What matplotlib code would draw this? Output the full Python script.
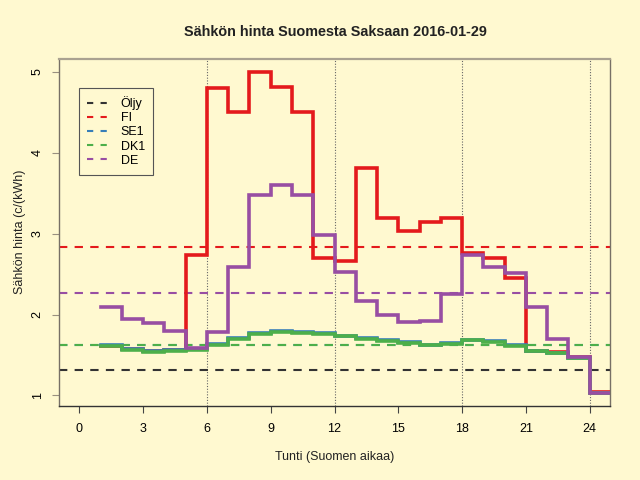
import matplotlib
matplotlib.use("Agg")
import matplotlib.pyplot as plt
from matplotlib.lines import Line2D

plt.rcParams['font.family'] = ['Liberation Sans', 'DejaVu Sans']

# hourly prices (c/kWh), Finnish time, hours 1..24
hours = list(range(1, 26))
fi = [1.61, 1.57, 1.55, 1.56, 2.74, 4.80, 4.51, 5.00, 4.81, 4.51, 2.70, 2.66,
      3.81, 3.20, 3.03, 3.14, 3.19, 2.76, 2.70, 2.45, 1.555, 1.54, 1.47, 1.04]
se1 = [1.62, 1.57, 1.55, 1.56, 1.57, 1.64, 1.71, 1.77, 1.80, 1.78, 1.77, 1.74,
       1.71, 1.68, 1.66, 1.63, 1.65, 1.69, 1.67, 1.62, 1.555, 1.53, 1.46, 1.03]
dk1 = [1.61, 1.56, 1.535, 1.55, 1.565, 1.63, 1.70, 1.76, 1.79, 1.77, 1.76, 1.73,
       1.70, 1.67, 1.65, 1.625, 1.64, 1.68, 1.66, 1.615, 1.55, 1.53, 1.46, 1.03]
de = [2.095, 1.94, 1.90, 1.80, 1.59, 1.79, 2.59, 3.48, 3.60, 3.48, 2.98, 2.53,
      2.17, 2.00, 1.905, 1.925, 2.25, 2.74, 2.59, 2.51, 2.10, 1.70, 1.47, 1.03]

# daily averages and oil reference
oljy_level = 1.32
avg_fi = 2.84
avg_se1 = 1.62
avg_dk1 = 1.62
avg_de = 2.27

names = ['Öljy', 'FI', 'SE1', 'DK1', 'DE']
colors = {'Öljy': '#333333', 'FI': '#E41A1C', 'SE1': '#377EB8',
          'DK1': '#4DAF4A', 'DE': '#984EA3'}
xticks = [0, 3, 6, 9, 12, 15, 18, 21, 24]
yticks = [1, 2, 3, 4, 5]
vlines = [6, 12, 18, 24]

bg = '#FFF9D0'
fig = plt.figure(figsize=(6.4, 4.8), dpi=100, facecolor=bg)
ax = fig.add_axes([59/640, 1-406/480, 551/640, 347/480], facecolor=bg)

# daily averages
for name, lvl in [('Öljy', oljy_level), ('FI', avg_fi), ('SE1', avg_se1),
                  ('DK1', avg_dk1), ('DE', avg_de)]:
    ax.axhline(lvl, color=colors[name], lw=1.5, dashes=(4, 3.5), zorder=2)

for v in vlines:
    ax.axvline(v, color='#666666', lw=0.8, ls=(0, (1, 1.5)), zorder=1)

for name, vals in [('FI', fi), ('SE1', se1), ('DK1', dk1), ('DE', de)]:
    ax.step(hours, vals + [vals[-1]], where='post', color=colors[name],
            lw=2.6, zorder=3, solid_joinstyle='miter')

ax.set_xlim(-0.96, 24.96)
ax.set_ylim(0.87, 5.16)
ax.set_xticks(xticks)
ax.set_yticks(yticks)
ax.tick_params(axis='x', length=5, color='#444444', labelsize=9, pad=7)
ax.tick_params(axis='y', length=5, color='#999080', labelsize=9, pad=6,
               labelrotation=90)
for lab in ax.get_yticklabels():
    lab.set_va('center')
for s in ax.spines.values():
    s.set_color('#777066')
    s.set_linewidth(1.0)
ax.spines['bottom'].set_color('#333333')
ax.spines['top'].set_color('#aaa290')
ax.spines['top'].set_linewidth(1.6)

handles = [Line2D([0], [0], color=colors[n], lw=1.5, dashes=(3, 3.5)) for n in names]
leg = ax.legend(handles, names, loc='upper left', bbox_to_anchor=(0.036, 0.916),
                borderaxespad=0, fancybox=False, framealpha=1, facecolor=bg,
                edgecolor='#555555', fontsize=9, handlelength=1.6,
                labelspacing=0.17, borderpad=0.65, handletextpad=1.1)
leg.get_frame().set_linewidth(0.8)

fig.text(335/640, 1-32/480, 'Sähkön hinta Suomesta Saksaan 2016-01-29',
         ha='center', va='center', fontsize=10.4, fontweight='bold', color='#222222')
fig.text(335/640, 1-457/480, 'Tunti (Suomen aikaa)', ha='center', va='center',
         fontsize=9, color='#222222')
fig.text(20/640, 1-232/480, 'Sähkön hinta (c/(kWh)', ha='center', va='center',
         rotation=90, fontsize=9, color='#222222')

fig.savefig('out.png', dpi=100, facecolor=bg)
